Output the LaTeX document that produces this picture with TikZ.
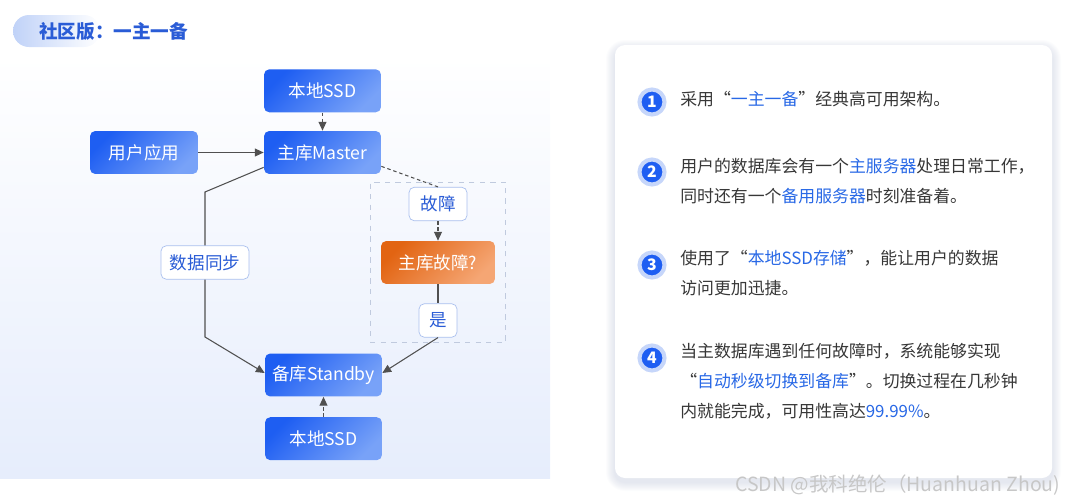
\documentclass[tikz,border=0pt]{standalone}
\usepackage{fontspec}
\setmainfont{Noto Sans CJK SC}
\usepackage{xcolor}
\usepackage{tikz}
\usetikzlibrary{arrows.meta, positioning, calc, fit, backgrounds}
\definecolor{mainblue}{RGB}{30,94,242}
\definecolor{lightblue}{RGB}{120,162,248}
\definecolor{txtblue}{RGB}{42,92,214}
\definecolor{hlblue}{RGB}{40,104,230}
\definecolor{lineblue}{RGB}{170,192,238}
\definecolor{myorange}{RGB}{226,100,18}
\definecolor{lightorange}{RGB}{245,166,116}
\definecolor{mygray}{RGB}{80,80,80}
\definecolor{txtgray}{RGB}{55,55,55}
\definecolor{panelblue}{RGB}{230,237,252}
\definecolor{pillblue}{RGB}{192,210,248}
\definecolor{halo}{RGB}{198,214,250}
\definecolor{dashgray}{RGB}{192,202,222}
\definecolor{shadowc}{RGB}{120,135,175}
\newcommand{\hlt}[1]{\textcolor{hlblue}{#1}}
\tikzset{
  block/.style={rectangle, rounded corners=3pt, draw=none, top color=mainblue, bottom color=lightblue, shading angle=45, text=white, font=\fontsize{10}{12}\selectfont, minimum width=2.34cm, minimum height=0.86cm},
  oblock/.style={block, top color=myorange, bottom color=lightorange, shading angle=45, minimum width=2.28cm},
  tag/.style={rectangle, rounded corners=3pt, fill=white, draw=lineblue, text=txtblue, font=\fontsize{10}{12}\selectfont, minimum height=0.67cm, inner xsep=5pt},
  line/.style={draw=mygray, line width=0.6pt},
  arrow/.style={line, -{Triangle[length=5pt,width=4.5pt]}},
  dline/.style={line, dash pattern=on 2pt off 1.6pt},
  darrow/.style={arrow, dash pattern=on 2pt off 1.6pt},
  numdot/.style={circle, fill=mainblue, draw=halo, line width=2.3pt, text=white, font=\fontsize{9}{10}\selectfont\bfseries, minimum size=0.5cm, inner sep=0pt},
  itemtext/.style={anchor=north west, align=left, inner sep=0pt, text=txtgray, font=\fontsize{9.6}{17}\selectfont}
}

\begin{document}
\begin{tikzpicture}[x=0.02cm, y=-0.02cm]
  \useasboundingbox (0,0) rectangle (1080,504);
  % diagram
  \node[block] (master) at (322.5,152.5) {主库Master};
  \node[block, above=0.36cm of master] (ssdtop) {本地SSD};
  \node[block, minimum width=2.16cm] (app) at (144,152.5) {用户应用};
  \node[block] (standby) at (323.5,375) {备库Standby};
  \node[block, below=0.4cm of standby] (ssdbot) {本地SSD};
  \node[tag, minimum width=1.76cm] (sync) at (205,262.5) {数据同步};
  \node[tag, minimum width=1.16cm] (fault) at (438,204) {故障};
  \node[oblock] (failq) at (438,262.5) {主库故障?};
  \node[tag, minimum width=0.76cm] (yes) at (438,320.5) {是};
  \begin{scope}[on background layer]
    % background of the diagram
    \shade[top color=white, bottom color=panelblue] (0,55) rectangle (550,478);
    \shade[left color=pillblue, right color=white, rounded corners=0.32cm] (13,15) rectangle (100,47);
    \node[fit=(fault)(failq)(yes), draw=dashgray, dashed, inner xsep=0.21cm, inner ysep=0.09cm] (failbox) {};
  \end{scope}
  \node[anchor=west, text=txtblue, font=\fontsize{10.6}{12}\selectfont\bfseries] (title) at (33,31) {社区版：一主一备};

  \coordinate (syncup) at (205,192);
  \coordinate (syncdown) at (205,337);
  \draw[darrow] (ssdtop) -- (master);
  \draw[arrow] (app) -- (master);
  \draw[line] ([yshift=0.14cm]master.south west) -- (syncup) -- (sync.north);
  \draw[arrow] (sync.south) -- (syncdown) -- ([yshift=0.04cm]standby.west);
  \draw[dline] ([yshift=0.16cm]master.south east) -- (fault.north);
  \draw[darrow] (fault) -- (failq);
  \draw[line] (failq) -- (yes);
  \draw[arrow] (yes.south) -- ([yshift=0.04cm]standby.east);
  \draw[darrow] (ssdbot) -- (standby);

  % card with the notes
  \foreach \s in {1,...,9}
    \fill[shadowc, opacity=0.025, rounded corners=0.2cm+\s*0.02cm] (615-\s,49-\s) rectangle (1052+\s,482+\s);
  \fill[white, rounded corners=0.2cm] (615,45) rectangle (1052,478);

  \node[numdot] (n1) at (652,102) {1};
  \node[numdot] (n2) at (652,172) {2};
  \node[numdot] (n3) at (652,265) {3};
  \node[numdot] (n4) at (652,358) {4};
  \node[itemtext] (t1) at (680,91) {采用“\hlt{一主一备}”经典高可用架构。};
  \node[itemtext] (t2) at (680,158) {用户的数据库会有一个\hlt{主服务器}处理日常工作，\\同时还有一个\hlt{备用服务器}时刻准备着。};
  \node[itemtext] (t3) at (680,250) {使用了“\hlt{本地SSD存储}”，能让用户的数据\\访问更加迅捷。};
  \node[itemtext] (t4) at (680,343) {当主数据库遇到任何故障时，系统能够实现\\“\hlt{自动秒级切换到备库}”。切换过程在几秒钟\\内就能完成，可用性高达\hlt{99.99\%}。};

  \node[anchor=west, text=black!22, font=\fontsize{11.1}{13}\selectfont] (mark) at (729,485) {CSDN @我科绝伦（Huanhuan Zhou)};
\end{tikzpicture}
\end{document}
